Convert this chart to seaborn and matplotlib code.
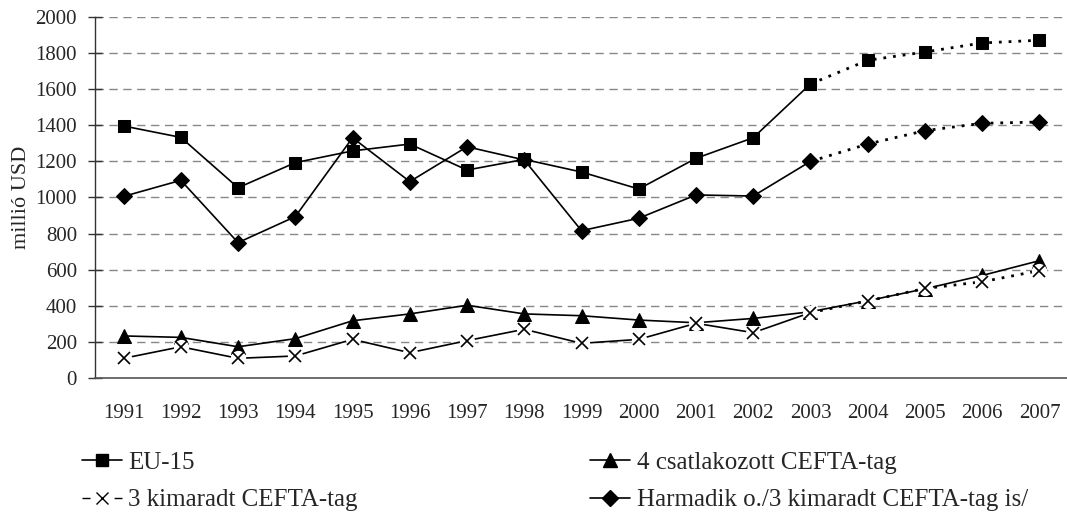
import matplotlib
matplotlib.use('Agg')
import matplotlib.pyplot as plt
import seaborn as sns
import pandas as pd
from matplotlib.lines import Line2D

years = list(range(1991, 2008))
eu15 = [1396, 1333, 1054, 1193, 1258, 1296, 1152, 1211, 1141, 1047, 1217, 1331, 1629, 1760, 1806, 1856, 1871]
csatlakozott = [233, 225, 173, 218, 317, 355, 403, 355, 345, 321, 306, 330, 367, 428, 494, 568, 650]
kimaradt = [109, 173, 109, 122, 214, 140, 207, 270, 192, 214, 303, 251, 362, 427, 496, 533, 595]
harmadik = [1006, 1095, 750, 894, 1331, 1088, 1281, 1208, 816, 885, 1014, 1008, 1200, 1296, 1370, 1411, 1418]
y_ticks = list(range(0, 2001, 200))

labels = ['EU-15', '4 csatlakozott CEFTA-tag', '3 kimaradt CEFTA-tag',
          'Harmadik o./3 kimaradt CEFTA-tag is/']

sns.set_style('white')
plt.rcParams['font.family'] = ['Liberation Serif', 'DejaVu Serif']

df = pd.DataFrame({'pos': range(len(years)), 'EU': eu15, 'TRI': csatlakozott,
                   'X': kimaradt, 'DIA': harmadik})
solid = df[df['pos'] <= 12]
dotted = df[df['pos'] >= 12]
dots = (0, (1, 2.5))

fig = plt.figure(figsize=(10.67, 5.14), dpi=100)
ax = fig.add_axes([0.089, 0.2646, 0.912, 0.7024])

# dashed gridlines
for y in y_ticks[1:]:
    ax.axhline(y, color='#888888', lw=1.0, dashes=(6, 4), zorder=0)

# EU-15: squares
sns.lineplot(data=solid, x='pos', y='EU', ax=ax, color='black', lw=1.2, marker='s', ms=9,
             markeredgecolor='black', zorder=3)
sns.lineplot(data=dotted, x='pos', y='EU', ax=ax, color='black', lw=2.0, ls=dots,
             marker='s', ms=9, markeredgecolor='black', zorder=3)

# Harmadik: diamonds
sns.lineplot(data=solid, x='pos', y='DIA', ax=ax, color='black', lw=1.2, marker='D', ms=8,
             markeredgecolor='black', zorder=3)
sns.lineplot(data=dotted, x='pos', y='DIA', ax=ax, color='black', lw=2.0, ls=dots,
             marker='D', ms=8, markeredgecolor='black', zorder=3)

# 4 csatlakozott: triangles, solid all the way
sns.lineplot(data=df, x='pos', y='TRI', ax=ax, color='black', lw=1.2, marker='^', ms=10,
             markeredgecolor='black', zorder=3)

# 3 kimaradt: x markers with a white background
sns.lineplot(data=solid, x='pos', y='X', ax=ax, color='black', lw=1.2, zorder=3)
sns.lineplot(data=dotted, x='pos', y='X', ax=ax, color='black', lw=2.0, ls=dots, zorder=3)
ax.plot(df['pos'], df['X'], ls='none', marker='o', ms=11, mfc='white', mec='none', zorder=4)
ax.plot(df['pos'], df['X'], ls='none', marker='x', ms=9, mew=1.2, color='black', zorder=5)

ax.set_xlim(-0.5, len(years) - 0.5)
ax.set_ylim(0, 2000)
ax.set_yticks(y_ticks)
ax.set_xticks(range(len(years)))
ax.set_xticklabels([str(y) for y in years])
ax.set_xticks([i - 0.5 for i in range(len(years) + 1)], minor=True)
ax.tick_params(axis='x', which='major', length=0, pad=19, labelsize=15)
ax.tick_params(axis='x', which='minor', length=7, direction='out', width=1, color='#333333')
ax.tick_params(axis='y', length=10, direction='inout', width=1, pad=8, labelsize=15,
               color='#333333', left=True)
ax.set_xlabel('')
ax.set_ylabel('millió USD', fontsize=16, labelpad=3)
for s in ['top', 'right']:
    ax.spines[s].set_visible(False)
ax.spines['left'].set_color('#333333')
ax.spines['bottom'].set_color('#555555')
ax.spines['left'].set_linewidth(1.0)
ax.spines['bottom'].set_linewidth(1.2)

handles = [
    Line2D([], [], color='black', lw=1.2, marker='s', ms=9),
    Line2D([], [], color='black', lw=1.0, marker='x', ms=8, ls=(0, (5.8, 17.3))),
    Line2D([], [], color='black', lw=1.2, marker='^', ms=10),
    Line2D([], [], color='black', lw=1.2, marker='D', ms=8),
]
fig.legend(handles, [labels[0], labels[2], labels[1], labels[3]], ncol=2,
           loc='upper left', bbox_to_anchor=(0.0769, 0.122), frameon=False,
           handlelength=1.6, handletextpad=0.25, columnspacing=9.3, labelspacing=0.6,
           fontsize=18, borderaxespad=0, borderpad=0)

fig.savefig('out.png', dpi=100)
